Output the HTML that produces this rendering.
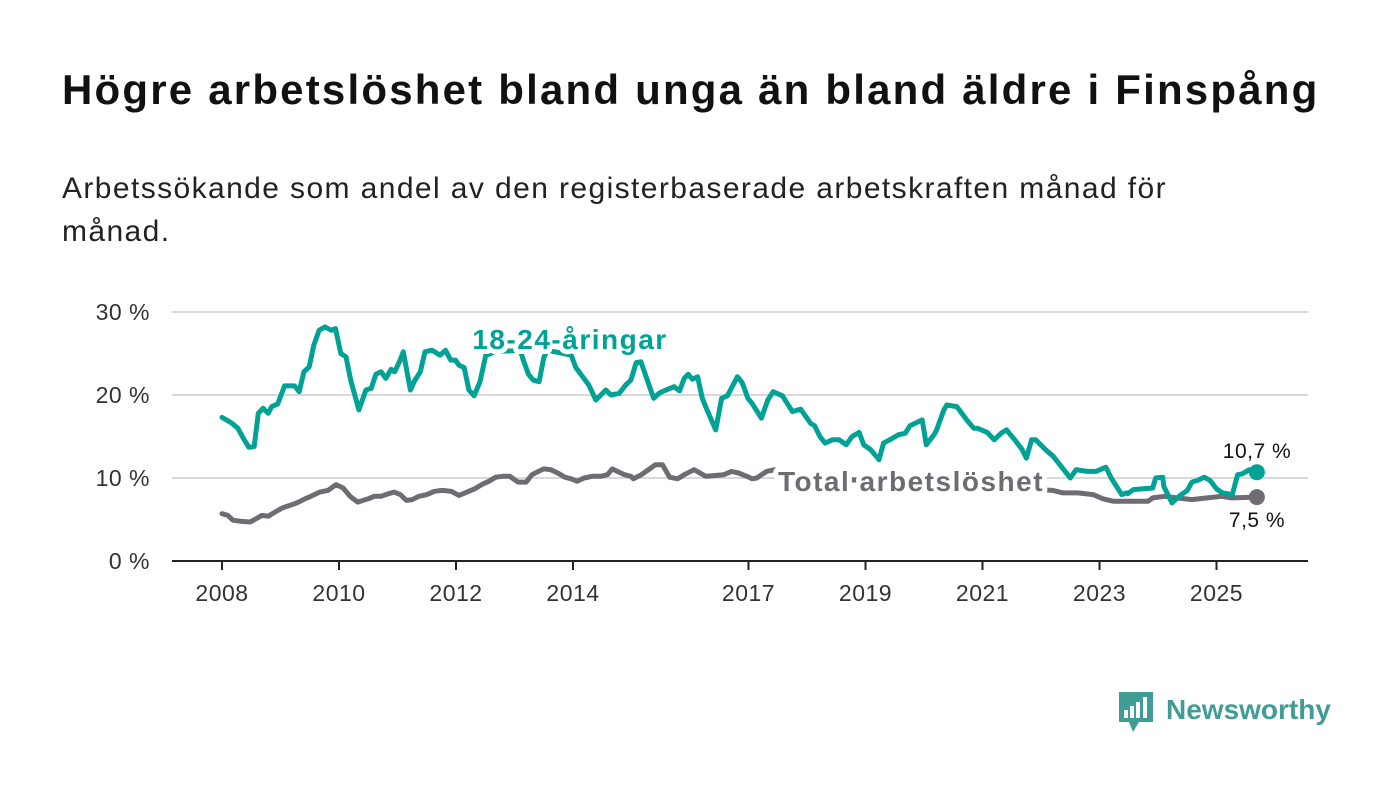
<!DOCTYPE html>
<html><head><meta charset="utf-8"><style>
body{margin:0;width:1400px;height:794px;background:#fff;font-family:"Liberation Sans",sans-serif;overflow:hidden;position:relative}
h1{position:absolute;left:62px;top:66px;margin:0;font-size:42px;font-weight:bold;color:#111;letter-spacing:2.2px;white-space:nowrap}
.sub{position:absolute;left:62px;top:167px;width:1190px;font-size:30px;line-height:43px;color:#222;letter-spacing:1.4px}
svg{position:absolute;left:0;top:0}
</style></head><body>
<h1>Högre arbetslöshet bland unga än bland äldre i Finspång</h1>
<div class="sub">Arbetssökande som andel av den registerbaserade arbetskraften månad för månad.</div>
<svg id="chart" width="1400" height="794"></svg>
<script>
const youthYears=[2008.0,2008.17,2008.27,2008.38,2008.46,2008.55,2008.62,2008.7,2008.79,2008.85,2008.95,2009.07,2009.24,2009.32,2009.4,2009.49,2009.57,2009.66,2009.76,2009.87,2009.94,2010.03,2010.12,2010.2,2010.34,2010.46,2010.55,2010.63,2010.72,2010.8,2010.89,2010.95,2011.04,2011.1,2011.22,2011.3,2011.39,2011.47,2011.59,2011.73,2011.82,2011.91,2011.99,2012.05,2012.14,2012.22,2012.31,2012.41,2012.51,2012.6,2012.65,2013.1,2013.15,2013.24,2013.32,2013.42,2013.5,2013.56,2013.97,2014.05,2014.27,2014.39,2014.56,2014.65,2014.79,2014.9,2014.99,2015.08,2015.16,2015.21,2015.3,2015.38,2015.47,2015.59,2015.73,2015.82,2015.9,2015.97,2016.04,2016.13,2016.21,2016.29,2016.44,2016.54,2016.64,2016.81,2016.89,2016.99,2017.06,2017.22,2017.33,2017.42,2017.58,2017.75,2017.89,2018.06,2018.13,2018.22,2018.31,2018.43,2018.55,2018.67,2018.77,2018.89,2018.97,2019.09,2019.23,2019.31,2019.44,2019.56,2019.68,2019.76,2019.85,2019.97,2020.04,2020.17,2020.21,2020.34,2020.39,2020.56,2020.73,2020.85,2020.91,2021.08,2021.2,2021.32,2021.41,2021.55,2021.67,2021.75,2021.84,2021.91,2022.08,2022.21,2022.5,2022.6,2022.79,2022.86,2022.94,2023.11,2023.2,2023.38,2023.46,2023.48,2023.58,2023.75,2023.91,2023.96,2024.08,2024.1,2024.24,2024.38,2024.5,2024.58,2024.67,2024.79,2024.89,2025.0,2025.1,2025.27,2025.36,2025.44,2025.56,2025.69];
const youthVals=[17.3,16.6,16.0,14.6,13.7,13.8,17.8,18.4,17.8,18.6,18.9,21.1,21.1,20.4,22.8,23.4,26.0,27.8,28.2,27.8,28.0,25.0,24.6,21.8,18.2,20.6,20.8,22.5,22.8,22.0,23.1,22.8,24.1,25.2,20.6,21.8,22.8,25.2,25.4,24.8,25.4,24.2,24.2,23.6,23.3,20.6,19.9,21.6,24.8,25.0,25.2,25.4,24.2,22.5,21.8,21.6,24.5,25.4,24.8,23.3,21.2,19.4,20.6,20.0,20.2,21.2,21.8,23.9,24.0,23.0,21.2,19.6,20.2,20.6,21.0,20.5,22.0,22.5,21.9,22.2,19.6,18.2,15.8,19.6,19.9,22.2,21.5,19.6,19.0,17.2,19.4,20.4,19.9,18.0,18.3,16.6,16.3,15.0,14.2,14.6,14.6,14.0,15.0,15.5,14.0,13.4,12.2,14.2,14.7,15.2,15.4,16.3,16.6,17.0,14.0,15.2,15.7,18.2,18.8,18.6,17.0,16.0,16.0,15.5,14.6,15.4,15.8,14.6,13.5,12.4,14.6,14.6,13.4,12.6,10.0,11.0,10.8,10.8,10.8,11.3,10.0,8.0,8.2,8.1,8.6,8.7,8.8,10.0,10.1,9.0,7.0,7.9,8.5,9.5,9.7,10.1,9.7,8.7,8.2,8.0,10.4,10.5,11.0,10.7];
const totalYears=[2008.0,2008.1,2008.19,2008.31,2008.48,2008.56,2008.68,2008.79,2008.91,2009.03,2009.16,2009.28,2009.42,2009.52,2009.67,2009.81,2009.95,2010.07,2010.19,2010.32,2010.5,2010.6,2010.72,2010.84,2010.94,2011.05,2011.15,2011.25,2011.37,2011.5,2011.63,2011.77,2011.92,2012.05,2012.19,2012.32,2012.44,2012.56,2012.68,2012.8,2012.92,2013.06,2013.2,2013.3,2013.41,2013.5,2013.62,2013.74,2013.86,2013.97,2014.07,2014.19,2014.33,2014.47,2014.59,2014.67,2014.88,2014.99,2015.03,2015.17,2015.31,2015.41,2015.53,2015.65,2015.79,2015.9,2016.07,2016.27,2016.58,2016.71,2016.83,2016.97,2017.06,2017.14,2017.31,2017.45,2017.57,2017.88,2018.73,2019.58,2020.44,2021.29,2021.97,2022.2,2022.38,2022.63,2022.89,2023.06,2023.23,2023.49,2023.83,2023.91,2024.12,2024.32,2024.58,2024.84,2025.09,2025.26,2025.69];
const totalVals=[5.7,5.5,4.9,4.8,4.7,5.0,5.5,5.4,5.9,6.4,6.7,7.0,7.5,7.8,8.3,8.5,9.2,8.8,7.8,7.1,7.5,7.8,7.8,8.1,8.3,8.0,7.3,7.4,7.8,8.0,8.4,8.5,8.4,7.9,8.3,8.7,9.2,9.6,10.1,10.2,10.2,9.5,9.5,10.4,10.8,11.1,11.0,10.6,10.1,9.9,9.6,10.0,10.2,10.2,10.4,11.1,10.4,10.2,9.9,10.4,11.1,11.6,11.6,10.1,9.9,10.4,11.0,10.2,10.4,10.8,10.6,10.2,9.9,10.0,10.8,11.0,10.7,10.0,9.8,9.5,9.2,8.8,8.6,8.5,8.2,8.2,8.0,7.5,7.2,7.2,7.2,7.6,7.8,7.6,7.4,7.6,7.8,7.6,7.7];
const yTicks=[0,10,20,30];
const yTickLabels=["0 %","10 %","20 %","30 %"];
const xTicks=[2008,2010,2012,2014,2017,2019,2021,2023,2025];

const NS="http://www.w3.org/2000/svg";
const svg=document.getElementById('chart');
const X=y=>222+(y-2008)*58.5;
const Y=v=>561-v*8.3;
function mk(tag,attrs,parent){const e=document.createElementNS(NS,tag);for(const k in attrs)e.setAttribute(k,attrs[k]);(parent||svg).appendChild(e);return e;}
yTicks.forEach((t,i)=>{
  if(t>0){const g=mk('line',{x1:172,x2:1308,y1:Y(t),y2:Y(t),stroke:'#d9d9d9','stroke-width':2});
  
  }
  const tx=mk('text',{x:150,y:Y(t)+8,'text-anchor':'end','font-size':23,fill:'#333','font-family':'Liberation Sans, sans-serif','letter-spacing':0.5});
  tx.textContent=yTickLabels[i];
  
  
});
const ax=mk('line',{x1:172,x2:1308,y1:561,y2:561,stroke:'#222','stroke-width':2});


xTicks.forEach(t=>{
  const tk=mk('line',{x1:X(t),x2:X(t),y1:561,y2:570,stroke:'#222','stroke-width':2});
  
  
  const tx=mk('text',{x:X(t),y:601,'text-anchor':'middle','font-size':23,fill:'#333','font-family':'Liberation Sans, sans-serif','letter-spacing':0.5});
  tx.textContent=String(t);
  
  
});
function line(ys,vs,color,name){
  const d=ys.map((y,i)=>(i?'L':'M')+X(y).toFixed(1)+','+Y(vs[i]).toFixed(1)).join('');
  const p=mk('path',{d:d,fill:'none',stroke:color,'stroke-width':5,'stroke-linejoin':'round','stroke-linecap':'round'});
  
  
  const n=ys.length-1;
  const c=mk('circle',{cx:X(ys[n]),cy:Y(vs[n]),r:8,fill:color});
  
  
}
line(totalYears,totalVals,'#6e6c72','total-line');
line(youthYears,youthVals,'#00a295','youth-line');
function lab(txt,x,y,size,color,bold,name,halo,ls){
  const t=mk('text',{x:x,y:y,'font-size':size,fill:color,'font-weight':bold?'bold':'normal','font-family':'Liberation Sans, sans-serif','text-anchor':'middle','letter-spacing':ls});
  if(halo){t.setAttribute('stroke','#fff');t.setAttribute('stroke-width',10);t.setAttribute('paint-order','stroke');t.setAttribute('stroke-linejoin','round');}
  t.textContent=txt;
  
  
}
lab('18-24-åringar',570,349,28,'#00a295',true,'youth-series-label',true,1.5);
lab('Total arbetslöshet',911,491,28,'#6e6c72',true,'total-series-label',true,1.5);
lab('10,7 %',1257,458,21,'#111',false,'youth-end-value',false,0.5);
lab('7,5 %',1257,527,21,'#111',false,'total-end-value',false,0.5);
</script>
<svg width="1400" height="794" style="pointer-events:none">
<path d="M1119 692h34v30h-14l-6 10-4-10h-10z" fill="#3f9d95"/>
<rect x="1124" y="710" width="4" height="8" fill="#fff"/><rect x="1130" y="706" width="4" height="12" fill="#fff"/><rect x="1136" y="702" width="4" height="16" fill="#fff"/><rect x="1143" y="697" width="4" height="21" fill="#fff"/>
<text x="1166" y="719" font-size="28" font-weight="bold" fill="#3f9d95" font-family="Liberation Sans, sans-serif">Newsworthy</text>
</svg>
</body></html>
